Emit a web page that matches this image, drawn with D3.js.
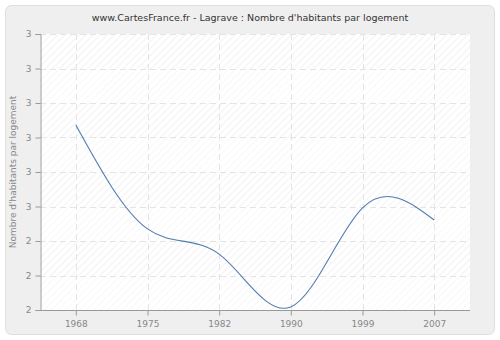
<!DOCTYPE html>
<html>
<head>
<meta charset="utf-8">
<script src="https://cdn.jsdelivr.net/npm/d3@7"></script>
<style>
  body { margin: 0; background: #fff; }
  svg text { font-family: "DejaVu Sans", sans-serif; }
</style>
</head>
<body>
<svg id="chart" width="500" height="340"></svg>
<script>
// data
var years = ["1968", "1975", "1982", "1990", "1999", "2007"];
var values = [2.736, 2.435, 2.362, 2.209, 2.496, 2.461];
var yTicks = [2.2, 2.3, 2.4, 2.5, 2.6, 2.7, 2.8, 2.9, 3.0];

var svg = d3.select("#chart");
var m = {left: 40, right: 30, top: 34, bottom: 30};
var W = 500, H = 340;

// outer panel
svg.append("rect")
   .attr("x", 5.5).attr("y", 5.5)
   .attr("width", 489).attr("height", 329)
   .attr("rx", 6)
   .attr("fill", "#efefef")
   .attr("stroke", "#dedede");

var x = d3.scalePoint().domain(years).range([m.left, W - m.right]).padding(0.5);
var y = d3.scaleLinear().domain([2.2, 3.0]).range([H - m.bottom, m.top]);

// hatch pattern
var defs = svg.append("defs");
var pat = defs.append("pattern")
   .attr("id", "hatch")
   .attr("patternUnits", "userSpaceOnUse")
   .attr("width", 5).attr("height", 5)
   .attr("patternTransform", "rotate(45)");
pat.append("rect").attr("width", 5).attr("height", 5).attr("fill", "#ffffff");
pat.append("line").attr("x1", 0).attr("y1", 0).attr("x2", 0).attr("y2", 5)
   .attr("stroke", "#eeeeee").attr("stroke-width", 1.5);

svg.append("rect")
   .attr("x", m.left).attr("y", m.top)
   .attr("width", W - m.right - m.left).attr("height", H - m.bottom - m.top)
   .attr("fill", "url(#hatch)");

// alternating light bands
for (var i = 0; i < yTicks.length - 1; i++) {
  if (i % 2 == 0) {
    svg.append("rect")
       .attr("x", m.left).attr("y", y(yTicks[i + 1]))
       .attr("width", W - m.right - m.left)
       .attr("height", y(yTicks[i]) - y(yTicks[i + 1]))
       .attr("fill", "#ffffff").attr("fill-opacity", 0.45);
  }
}

// grid
svg.append("g").selectAll("line").data(yTicks.slice(1)).enter().append("line")
   .attr("x1", m.left).attr("x2", W - m.right)
   .attr("y1", function(d) { return Math.round(y(d)) + 0.5; })
   .attr("y2", function(d) { return Math.round(y(d)) + 0.5; })
   .attr("stroke", "#e4e4e4").attr("stroke-dasharray", "6,4");
svg.append("g").selectAll("line").data(years).enter().append("line")
   .attr("x1", function(d) { return Math.round(x(d)) + 0.5; })
   .attr("x2", function(d) { return Math.round(x(d)) + 0.5; })
   .attr("y1", m.top).attr("y2", H - m.bottom)
   .attr("stroke", "#e4e4e4").attr("stroke-dasharray", "6,4");

// axes
var yAxis = svg.append("g")
   .attr("transform", "translate(" + (m.left + 0.5) + ",0)")
   .call(d3.axisLeft(y).tickValues(yTicks).tickSize(5).tickFormat(d3.format(".0f")));
var xAxis = svg.append("g")
   .attr("transform", "translate(0," + (H - m.bottom + 0.5) + ")")
   .call(d3.axisBottom(x).tickSize(5));
xAxis.select(".domain").attr("d", "M" + m.left + ",0H" + (W - m.right));
[yAxis, xAxis].forEach(function(a) {
  a.selectAll("path, line").attr("stroke", "#999999");
  a.selectAll("text").attr("fill", "#888888").style("font-size", "9px");
});
yAxis.selectAll("text").attr("x", -9);
xAxis.selectAll("text").attr("y", 10);

// line
var line = d3.line()
   .x(function(d, i) { return x(years[i]); })
   .y(function(d) { return y(d); })
   .curve(d3.curveNatural);
svg.append("path")
   .datum(values)
   .attr("d", line)
   .attr("fill", "none")
   .attr("stroke", "#4f7db0")
   .attr("stroke-width", 1.1);

// title
svg.append("text")
   .attr("x", 250).attr("y", 21)
   .attr("text-anchor", "middle")
   .attr("fill", "#333")
   .style("font-size", "9.5px")
   .text("www.CartesFrance.fr - Lagrave : Nombre d'habitants par logement");

// y label
svg.append("text")
   .attr("transform", "translate(16," + ((m.top + H - m.bottom) / 2) + ") rotate(-90)")
   .attr("text-anchor", "middle")
   .attr("fill", "#888")
   .style("font-size", "9px")
   .text("Nombre d'habitants par logement");
</script>
</body>
</html>
